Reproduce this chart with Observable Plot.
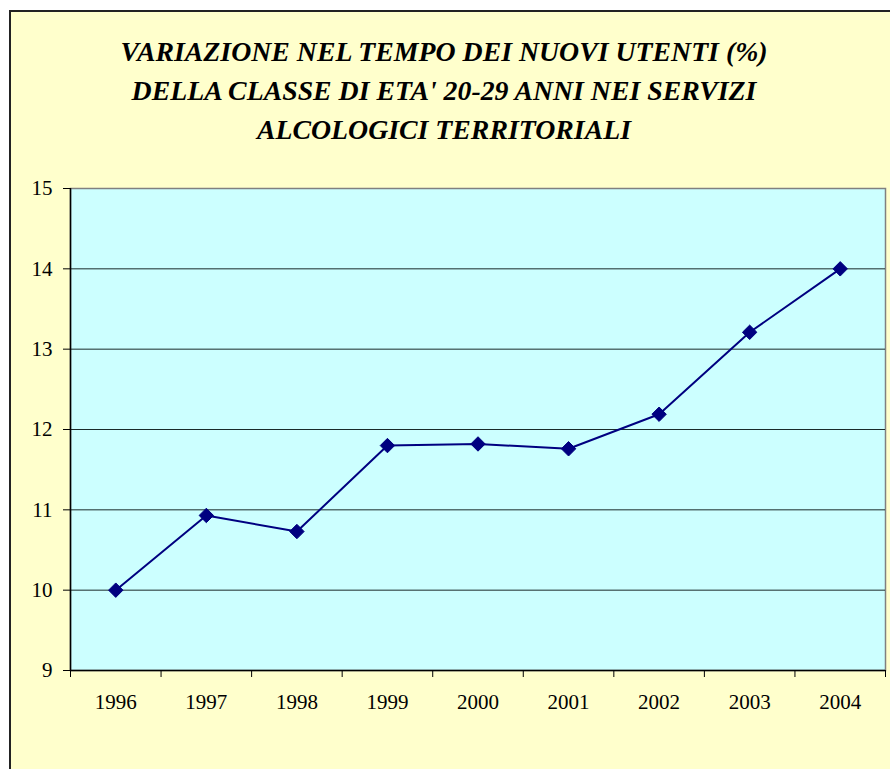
<!DOCTYPE html>
<html>
<head>
<meta charset="utf-8">
<script src="https://cdn.jsdelivr.net/npm/d3@7"></script>
<script src="https://cdn.jsdelivr.net/npm/@observablehq/plot@0.6"></script>
<style>
  html, body { margin: 0; padding: 0; background: #ffffff; }
  #wrap { position: relative; width: 890px; height: 769px; overflow: hidden; }
  #panel { position: absolute; left: 9px; top: 10px; width: 900px; height: 800px;
           background: #FFFFCC; border-left: 2px solid #222; border-top: 2px solid #222; }
  #title { position: absolute; left: 4px; top: 0; width: 880px; text-align: center;
           font-family: "Liberation Serif", "Times New Roman", serif; font-weight: bold; font-style: italic;
           font-size: 27.8px; line-height: 39px; color: #000; padding-top: 32px; }
  #chart { position: absolute; left: 0; top: 0; }
</style>
</head>
<body>
<div id="wrap">
  <div id="panel"></div>
  <div id="title">VARIAZIONE NEL TEMPO DEI NUOVI UTENTI (%)<br>DELLA CLASSE DI ETA' 20-29 ANNI NEI SERVIZI<br>ALCOLOGICI TERRITORIALI</div>
  <div id="chart"></div>
</div>
<script>
const years = ["1996", "1997", "1998", "1999", "2000", "2001", "2002", "2003", "2004"];
const values = [10.0, 10.93, 10.73, 11.80, 11.82, 11.76, 12.19, 13.21, 14.0];
const yTicks = [9, 10, 11, 12, 13, 14, 15];

const data = years.map((y, i) => ({year: y, idx: i + 0.5, value: values[i]}));
const boundaries = d3.range(years.length + 1);
const gridLines = yTicks.slice(1, -1);

const font = "Liberation Serif, Times New Roman, serif";

const chart = Plot.plot({
  width: 890,
  height: 769,
  marginLeft: 70,
  marginRight: 5,
  marginTop: 188,
  marginBottom: 99,
  style: {background: "transparent", fontFamily: font, fontSize: "21px", color: "#000"},
  x: {domain: [0, years.length], axis: null},
  y: {domain: [9, 15], axis: null},
  marks: [
    Plot.frame({fill: "#CCFFFF", stroke: "#808080", strokeWidth: 1.5}),
    Plot.ruleY(gridLines, {stroke: "#1a2a2a", strokeWidth: 1}),
    Plot.ruleX([0], {stroke: "#000", strokeWidth: 1.5}),
    Plot.ruleY([9], {stroke: "#000", strokeWidth: 1.5}),
    Plot.axisY({ticks: yTicks, label: null, tickSize: 7, tickPadding: 11, tickFormat: d => String(d), stroke: "#000", fontSize: 21, fontFamily: font}),
    Plot.axisX({ticks: boundaries, label: null, tickSize: 7, tickFormat: () => "", stroke: "#000"}),
    Plot.axisX({ticks: data.map(d => d.idx), label: null, tickSize: 0, tickPadding: 24, tickFormat: (d, i) => years[i], fontSize: 21, fontFamily: font}),
    Plot.line(data, {x: "idx", y: "value", stroke: "#000080", strokeWidth: 2}),
    Plot.dot(data, {x: "idx", y: "value", symbol: "diamond2", r: 6.5, fill: "#000080", stroke: "#000080", strokeWidth: 1})
  ]
});
document.getElementById("chart").appendChild(chart);
</script>
</body>
</html>
